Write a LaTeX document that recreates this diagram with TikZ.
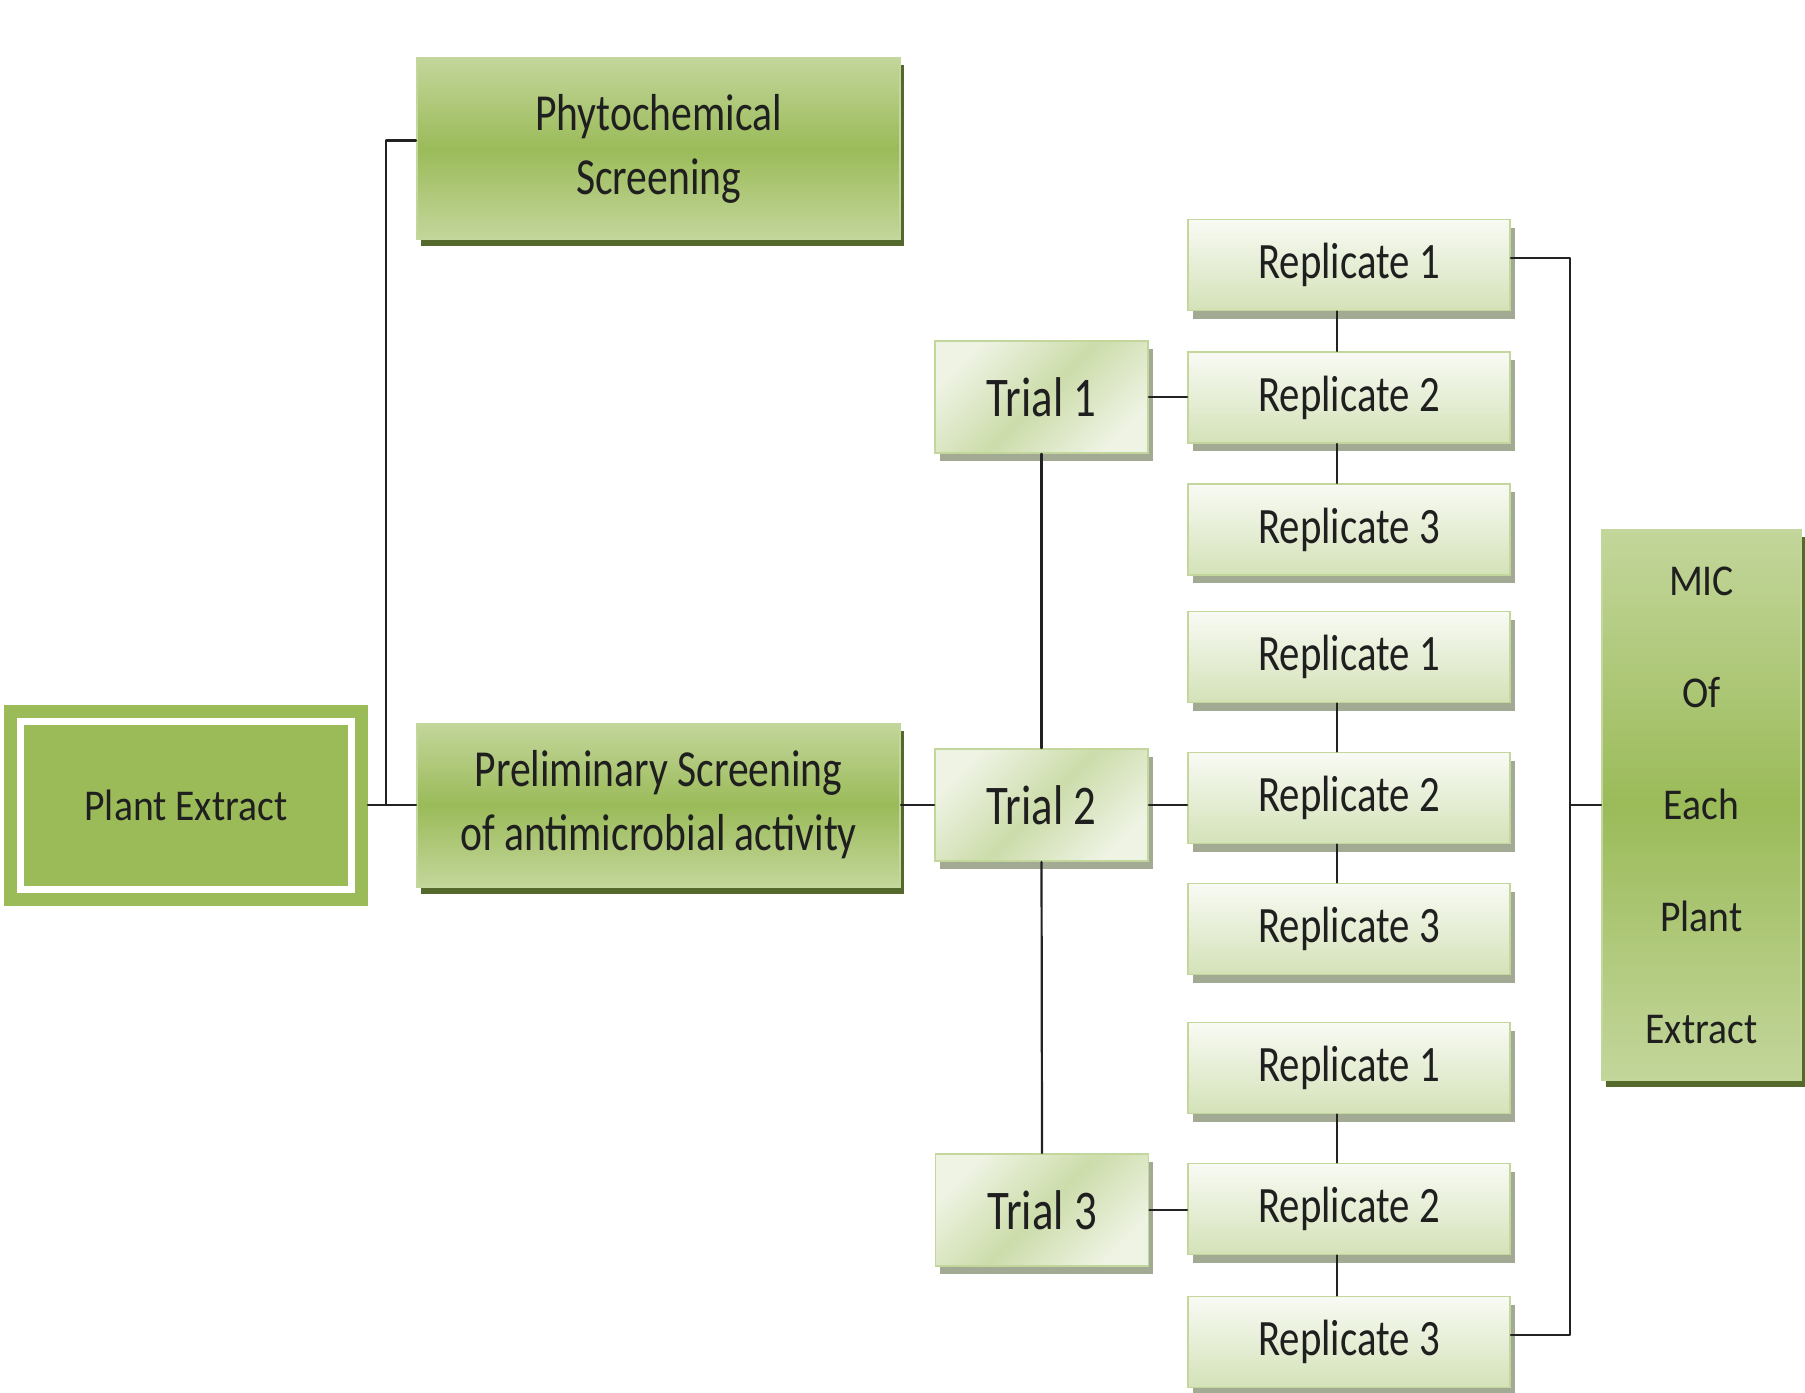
\documentclass[tikz,border=0pt]{standalone}
\usepackage{fontspec}
\setmainfont{Carlito}[FakeStretch=0.8]
\newfontfamily\widefont{Carlito}[FakeStretch=0.9]
\usepackage{tikz}
\usetikzlibrary{shadows}

\definecolor{leaf}{HTML}{9BBB59}
\definecolor{leaflight}{HTML}{C3D69B}
\definecolor{leafpale}{HTML}{EEF3E3}
\definecolor{leafwash}{HTML}{D4E2B8}
\definecolor{leafdark}{HTML}{55692C}
\definecolor{shadegrey}{HTML}{A2AA93}
\definecolor{inkgrey}{HTML}{222222}

\tikzset{
  conn/.style={draw=inkgrey,line width=0.55pt},
  mainbox/.style={rectangle,draw=leaflight,line width=0.5pt,inner sep=0pt,line join=miter,
    top color=leaflight,bottom color=leaflight,middle color=leaf,
    drop shadow={shadow xshift=1pt,shadow yshift=-1.8pt,fill=leafdark,opacity=1},
    align=center,text=black!88,font=\fontsize{13}{16}\selectfont},
  plantbox/.style={rectangle,fill=leaf,draw=leaf,line width=3.25pt,line join=miter,
    double=white,double distance=1.75pt,inner sep=0pt,outer sep=4.125pt,
    minimum width=82.75pt,minimum height=42pt,
    text=black!88,font=\widefont\fontsize{11}{13}\selectfont},
  trialbox/.style={rectangle,draw=leaflight,line width=0.45pt,inner sep=0pt,line join=miter,
    top color=leafpale,bottom color=leafpale,middle color=leaflight!85,shading angle=45,
    drop shadow={shadow xshift=1.2pt,shadow yshift=-2pt,fill=shadegrey,opacity=1},
    minimum width=53.25pt,minimum height=28pt,
    text=black!88,font=\fontsize{14}{17}\selectfont},
  repbox/.style={rectangle,draw=leaflight,line width=0.45pt,inner sep=0pt,line join=miter,
    top color=white!60!leafpale,bottom color=leafwash,
    drop shadow={shadow xshift=1.2pt,shadow yshift=-2pt,fill=shadegrey,opacity=1},
    minimum width=80.5pt,minimum height=22.75pt,
    text=black!88,font=\fontsize{12.75}{15}\selectfont}
}

\begin{document}
\begin{tikzpicture}[line cap=round,line join=round,x=0.25pt,y=-0.25pt]
\useasboundingbox (0,0) rectangle (1805,1392);
%\draw [help lines, step=100] (0,0) grid (1805,1392);

\node[plantbox] (plant) at (186,805) {Plant Extract};
\node[mainbox,minimum width=120.75pt,minimum height=45.25pt] (phyto) at (658.5,148.5) {Phytochemical\\Screening};
\node[mainbox,minimum width=120.75pt,minimum height=40.75pt] (prelim) at (658.5,805) {Preliminary Screening\\of antimicrobial activity};

\node[trialbox] (trial1) at (1041.5,397) {Trial 1};
\node[trialbox] (trial2) at (1041.5,805) {Trial 2};
\node[trialbox] (trial3) at (1042,1210) {Trial 3};

\node[repbox] (r11) at (1349,265) {Replicate 1};
\node[repbox] (r12) at (1349,397.5) {Replicate 2};
\node[repbox] (r13) at (1349,529.5) {Replicate 3};
\node[repbox] (r21) at (1349,657) {Replicate 1};
\node[repbox] (r22) at (1349,798) {Replicate 2};
\node[repbox] (r23) at (1349,929) {Replicate 3};
\node[repbox] (r31) at (1349,1068) {Replicate 1};
\node[repbox] (r32) at (1349,1209) {Replicate 2};
\node[repbox] (r33) at (1349,1342) {Replicate 3};

\node[mainbox,minimum width=49.75pt,minimum height=137.5pt,font=\widefont\fontsize{11}{28}\selectfont] (mic) at (1701.5,805) {MIC\\Of\\Each\\Plant\\Extract};

% extract -> screenings
\coordinate (split) at (386,805);
\draw[conn] (plant.east) -- (prelim.west);
\draw[conn] (split) |- ([yshift=2pt]phyto.west);

% trials
\draw[conn] (prelim.east) -- (trial2.west);
\draw[conn] (trial1.south) -- (trial2.north);
\draw[conn] (trial2.south) -- (trial3.north);
\draw[conn] (trial1.east) -- (trial1.east -| r12.west);
\draw[conn] (trial2.east) -- (trial2.east -| r22.west);
\draw[conn] (trial3.east) -- (trial3.east -| r32.west);

% replicates
\draw[conn] ([xshift=-3pt]r11.south) -- ([xshift=-3pt]r12.north);
\draw[conn] ([xshift=-3pt]r12.south) -- ([xshift=-3pt]r13.north);
\draw[conn] ([xshift=-3pt]r21.south) -- ([xshift=-3pt]r22.north);
\draw[conn] ([xshift=-3pt]r22.south) -- ([xshift=-3pt]r23.north);
\draw[conn] ([xshift=-3pt]r31.south) -- ([xshift=-3pt]r32.north);
\draw[conn] ([xshift=-3pt]r32.south) -- ([xshift=-3pt]r33.north);

% bracket to MIC
\coordinate (bus) at (1570,805);
\draw[conn] ([yshift=1.75pt]r11.east) -| (bus) |- ([yshift=1.75pt]r33.east);
\draw[conn] (bus) -- (mic.west);
\end{tikzpicture}
\end{document}
